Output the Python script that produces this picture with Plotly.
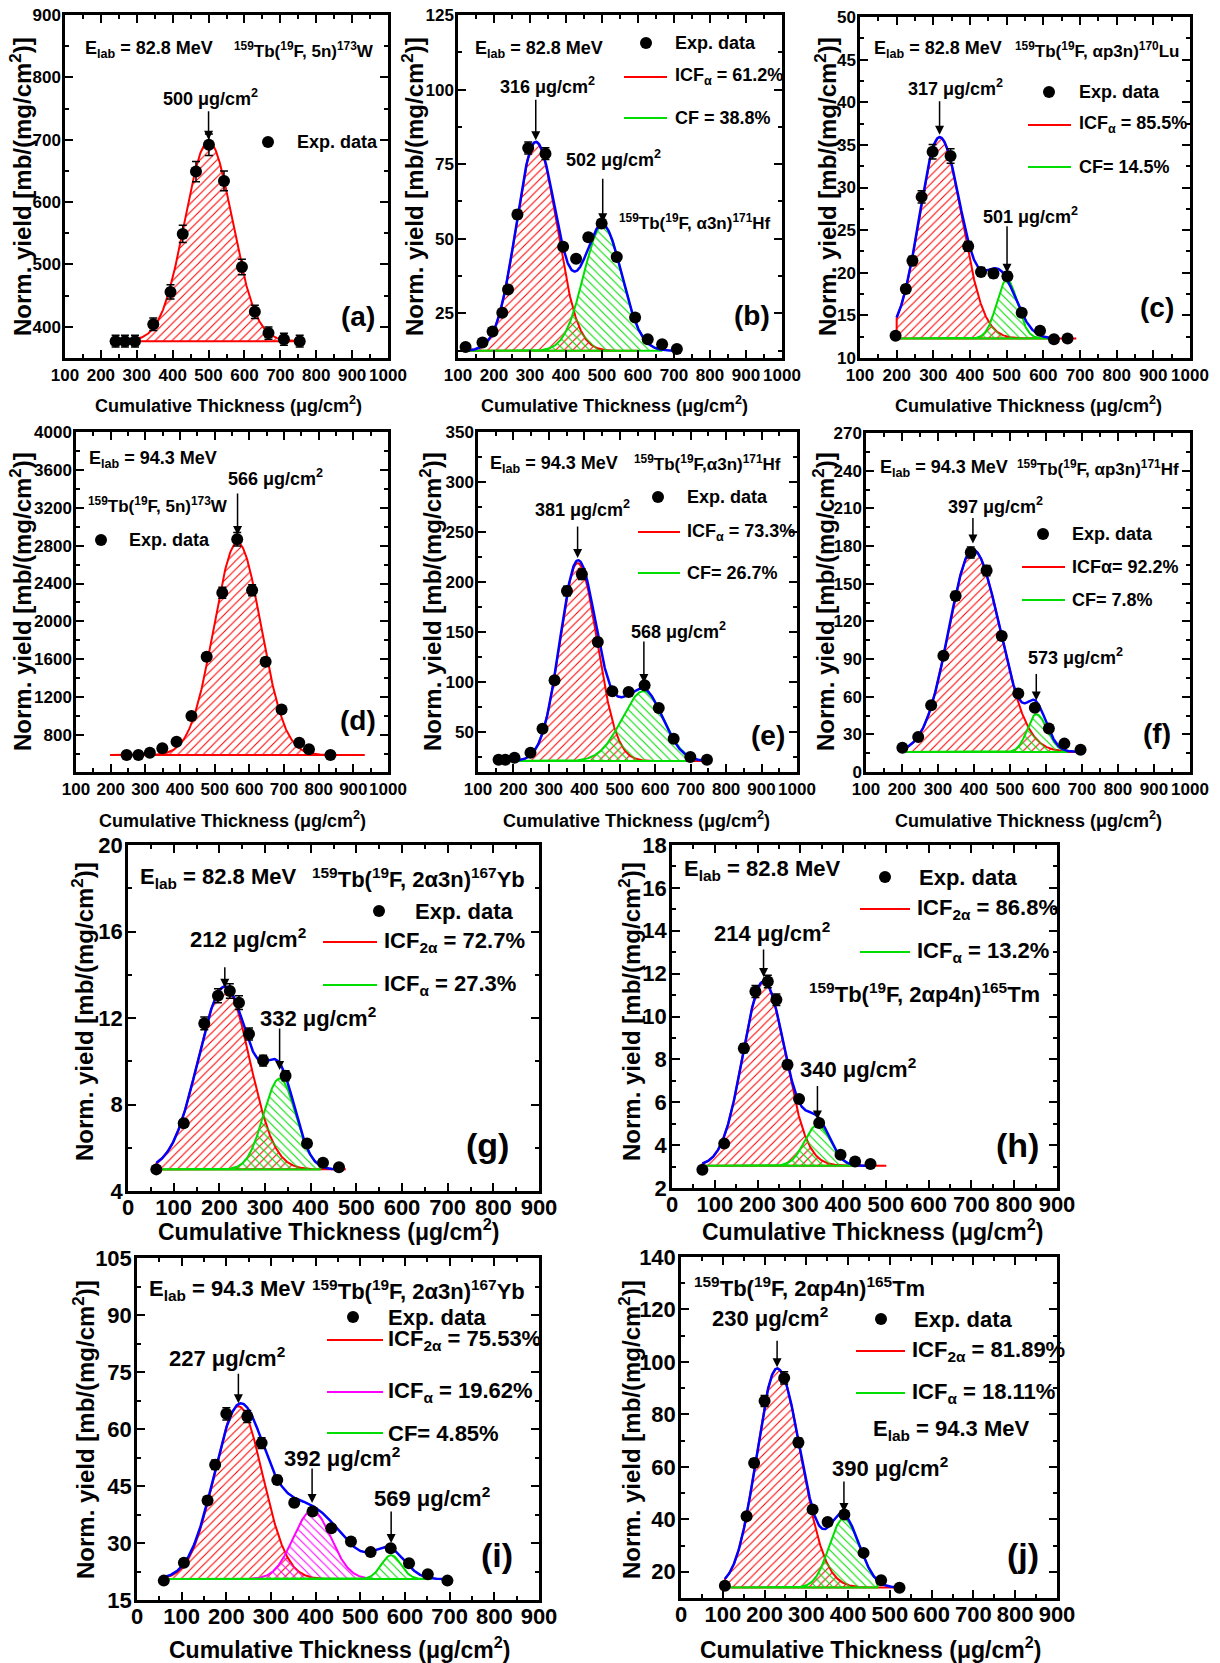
import numpy as np
import plotly.graph_objects as go

W, H = 1220, 1663

# ---------------- experimental points: cumulative thickness (ug/cm2) and normalized yield ----------------
a_thick = [241, 267, 295, 346, 394, 428, 465, 501, 543, 593, 629, 667, 710, 754]
a_yield = [377, 377, 377, 404, 456, 549, 649, 692, 634, 496, 424, 390, 380, 377]
b_thick = [121, 168, 196, 223, 239, 265, 295, 343, 392, 428, 462, 499, 541, 592, 627, 667, 708]
b_yield = [13.7, 15.2, 18.9, 25.2, 33.0, 58.1, 80.4, 78.5, 47.3, 43.3, 50.5, 55.1, 43.9, 23.6, 16.3, 14.6, 13.0]
c_thick = [197, 225, 243, 268, 298, 347, 395, 430, 464, 502, 541, 591, 629, 666]
c_yield = [12.6, 18.1, 21.4, 28.9, 34.2, 33.7, 23.1, 20.1, 19.9, 19.6, 15.3, 13.2, 12.2, 12.3]
d_thick = [246, 280, 313, 349, 390, 433, 477, 522, 565, 608, 647, 693, 744, 772, 834]
d_yield = [589, 589, 614, 660, 730, 1001, 1627, 2302, 2868, 2330, 1574, 1071, 720, 649, 589]
e_thick = [158, 177, 203, 248, 282, 316, 351, 393, 438, 479, 525, 570, 610, 652, 699, 746]
e_yield = [22.3, 22.3, 24.3, 29.3, 53.3, 101.7, 191, 207.7, 140, 90.7, 90, 96.7, 74, 43.3, 25, 22.3]
f_thick = [201, 245, 281, 315, 349, 391, 435, 477, 523, 569, 608, 651, 696]
f_yield = [19.4, 27.9, 53.2, 92.6, 140.2, 174.8, 160.4, 108.3, 62.5, 51.1, 34.6, 22.6, 17.8]
g_thick = [62, 122, 167, 197, 223, 243, 265, 296, 345, 392, 427, 462]
g_yield = [5.0, 7.13, 11.75, 13.03, 13.25, 12.71, 11.26, 10.03, 9.33, 6.2, 5.31, 5.1]
h_thick = [71, 122, 168, 195, 224, 244, 270, 297, 344, 394, 428, 464]
h_yield = [2.85, 4.07, 8.52, 11.17, 11.63, 10.78, 7.75, 6.15, 5.03, 3.55, 3.24, 3.12]
i_thick = [60, 105, 158, 175, 200, 247, 279, 314, 352, 393, 435, 479, 523, 568, 609, 651, 695]
i_yield = [20.1, 24.8, 41.2, 50.6, 64.0, 63.3, 56.3, 46.6, 40.6, 38.3, 33.9, 30.4, 27.6, 28.6, 24.7, 21.8, 20.1]
j_thick = [105, 157, 175, 200, 247, 281, 315, 351, 391, 437, 479, 523]
j_yield = [14.7, 41.2, 61.5, 85.1, 93.9, 69.3, 43.7, 39.0, 41.8, 27.2, 16.8, 13.9]

# ---------------- Gaussian fit parameters (centroid, amplitude, sigma left, sigma right) ----------------
a_base = 377; a_cen = [500]; a_amp = [320]; a_sl = [66]; a_sr = [66]
b_base = 12.4; b_cen = [316, 502]; b_amp = [70, 42]; b_sl = [54, 53]; b_sr = [58, 53]
c_base = 12.3; c_cen = [317, 501]; c_amp = [23.6, 6.9]; c_sl = [55, 28]; c_sr = [60, 28]
c_fcen = [317, 480]; c_famp = [23.6, 7.5]; c_fsl = [55, 45]; c_fsr = [60, 45]
d_base = 589; d_cen = [566]; d_amp = [2244]; d_sl = [68]; d_sr = [68]
e_base = 21; e_cen = [381, 568]; e_amp = [198, 70]; e_sl = [50, 62]; e_sr = [55, 55]
e_fcen = [381, 565]; e_famp = [198, 72]; e_fsl = [50, 72]; e_fsr = [53, 55]
f_base = 16; f_cen = [397, 573]; f_amp = [161, 30]; f_sl = [67, 25]; f_sr = [75, 30]
g_base = 5.0; g_cen = [212, 332]; g_amp = [8.45, 4.2]; g_sl = [58, 35]; g_sr = [54, 35]
h_base = 3.04; h_cen = [214, 340]; h_amp = [8.6, 1.9]; h_sl = [48, 30]; h_sr = [51, 30]
i_base = 20.5; i_cen = [227, 392, 569]; i_amp = [45.5, 18, 6.3]; i_sl = [54, 42, 22]; i_sr = [54, 42, 22]
i_fcen = [227, 380, 565]; i_famp = [43, 19, 7]; i_fsl = [56, 80, 35]; i_fsr = [56, 80, 35]
j_base = 14; j_cen = [230, 389]; j_amp = [83.5, 26.3]; j_sl = [49, 34]; j_sr = [57, 38]

RED, GREEN, MAG, BLUE = '#ff0000', '#00dd00', '#ff00ff', '#0000ff'

def ug(v):
    return f"{v} \u03bcg/cm<sup>2</sup>"

def reac(a, b):
    return f"<sup>159</sup>Tb(<sup>19</sup>F,{a}){b}"

panels = [
    dict(box=(65, 15, 388, 358), xr=[100, 1000], yr=[350, 900], ydt=100, ymdt=50, row=0,
         x=a_thick, y=a_yield, base=a_base,
         comps=[(a_cen[0], a_amp[0], a_sl[0], a_sr[0], 295, 754, RED, '/')], fit=None,
         texts=[("E<sub>lab</sub> = 82.8 MeV", 83, 50, 'left'),
                (reac(' 5n', '<sup>173</sup>W'), 376, 50, 'right'),
                (ug(500), 211, 98, 'center')],
         arrows=[(500, 700, 30)], marker=(268, 142), exp=(295, 142), legx=295, lines=[],
         label=('(a)', 358, 317), ytitle=(21, 187), xtitle=(228, 404)),
    dict(box=(458, 15, 782, 358), xr=[100, 1000], yr=[10, 125], ydt=25, ymdt=12.5, row=0,
         x=b_thick, y=b_yield, base=b_base,
         comps=[(b_cen[0], b_amp[0], b_sl[0], b_sr[0], 123, 600, RED, '/'),
                (b_cen[1], b_amp[1], b_sl[1], b_sr[1], 123, 665, GREEN, '\\')],
         fit=(b_cen, b_amp, b_sl, b_sr, 121, 708),
         texts=[("E<sub>lab</sub> = 82.8 MeV", 473, 50, 'left'),
                (ug(316), 547, 85, 'center'), (ug(502), 613, 158, 'center'),
                (reac(' \u03b13n', '<sup>171</sup>Hf'), 773, 222, 'right')],
         arrows=[(316, 83, 42), (502, 55.5, 45)], marker=(646, 43), exp=(673, 43), legx=673,
         lines=[(624, 667, 77, RED, "ICF<sub>\u03b1</sub> = 61.2%"), (624, 667, 118, GREEN, "CF = 38.8%")],
         label=('(b)', 752, 315), ytitle=(413, 187), xtitle=(614, 404)),
    dict(box=(860, 17, 1190, 358), xr=[100, 1000], yr=[10, 50], ydt=5, ymdt=2.5, row=0,
         x=c_thick, y=c_yield, base=c_base,
         comps=[(c_cen[0], c_amp[0], c_sl[0], c_sr[0], 200, 690, RED, '/'),
                (c_cen[1], c_amp[1], c_sl[1], c_sr[1], 200, 620, GREEN, '\\')],
         fit=(c_fcen, c_famp, c_fsl, c_fsr, 200, 627),
         texts=[("E<sub>lab</sub> = 82.8 MeV", 872, 50, 'left'),
                (reac(' \u03b1p3n', '<sup>170</sup>Lu'), 1181, 50, 'right'),
                (ug(317), 955, 87, 'center'), (ug(501), 1030, 215, 'center')],
         arrows=[(317, 36.2, 35), (501, 20, 48)], marker=(1049, 92), exp=(1077, 92), legx=1077,
         lines=[(1028, 1071, 125, RED, "ICF<sub>\u03b1</sub> = 85.5%"), (1028, 1071, 167, GREEN, "CF= 14.5%")],
         label=('(c)', 1157, 308), ytitle=(826, 187), xtitle=(1028, 404)),
    dict(box=(76, 432, 388, 772), xr=[100, 1000], yr=[410, 4000], ydt=400, ymdt=200, row=1,
         x=d_thick, y=d_yield, base=d_base,
         comps=[(d_cen[0], d_amp[0], d_sl[0], d_sr[0], 198, 933, RED, '/')], fit=None,
         texts=[("E<sub>lab</sub> = 94.3 MeV", 87, 460, 'left'), (ug(566), 275, 478, 'center'),
                (reac(' 5n', '<sup>173</sup>W'), 86, 505, 'left')],
         arrows=[(566, 2912, 43)], marker=(101, 540), exp=(127, 540), legx=127, lines=[],
         label=('(d)', 358, 720), ytitle=(21, 602), xtitle=(232, 819)),
    dict(box=(478, 432, 797, 772), xr=[100, 1000], yr=[10, 350], ydt=50, ymdt=25, row=1,
         x=e_thick, y=e_yield, base=e_base,
         comps=[(e_cen[0], e_amp[0], e_sl[0], e_sr[0], 158, 746, RED, '/'),
                (e_cen[1], e_amp[1], e_sl[1], e_sr[1], 158, 700, GREEN, '\\')],
         fit=(e_fcen, e_famp, e_fsl, e_fsr, 158, 746),
         texts=[("E<sub>lab</sub> = 94.3 MeV", 488, 465, 'left'),
                (reac('\u03b13n', '<sup>171</sup>Hf'), 783, 463, 'right'),
                (ug(381), 582, 508, 'center'), (ug(568), 678, 630, 'center')],
         arrows=[(381, 224, 33), (568, 99, 43)], marker=(658, 497), exp=(685, 497), legx=685,
         lines=[(638, 680, 532, RED, "ICF<sub>\u03b1</sub> = 73.3%"), (638, 680, 573, GREEN, "CF= 26.7%")],
         label=('(e)', 768, 735), ytitle=(431, 602), xtitle=(637, 819)),
    dict(box=(866, 433, 1190, 772), xr=[100, 1000], yr=[0, 270], ydt=30, ymdt=15, row=1,
         x=f_thick, y=f_yield, base=f_base,
         comps=[(f_cen[0], f_amp[0], f_sl[0], f_sr[0], 201, 680, RED, '/'),
                (f_cen[1], f_amp[1], f_sl[1], f_sr[1], 201, 660, GREEN, '\\')],
         fit=(f_cen, f_amp, f_sl, f_sr, 201, 696),
         texts=[("E<sub>lab</sub> = 94.3 MeV", 878, 468, 'left'),
                (reac(' \u03b1p3n', '<sup>171</sup>Hf'), 1181, 468, 'right'),
                (ug(397), 995, 505, 'center'), (ug(573), 1075, 657, 'center')],
         arrows=[(397, 182, 27), (573, 57, 28)], marker=(1043, 534), exp=(1070, 534), legx=1070,
         lines=[(1022, 1065, 567, RED, "ICF\u03b1= 92.2%"), (1022, 1065, 600, GREEN, "CF= 7.8%")],
         label=('(f)', 1157, 733), ytitle=(824, 602), xtitle=(1028, 819)),
    dict(box=(128, 845, 539, 1191), xr=[0, 900], yr=[4, 20], ydt=4, ymdt=2, row=2,
         x=g_thick, y=g_yield, base=g_base,
         comps=[(g_cen[0], g_amp[0], g_sl[0], g_sr[0], 62, 477, RED, '/'),
                (g_cen[1], g_amp[1], g_sl[1], g_sr[1], 62, 420, GREEN, '\\')],
         fit=(g_cen, g_amp, g_sl, g_sr, 62, 462),
         texts=[("E<sub>lab</sub> = 82.8 MeV", 138, 878, 'left'),
                (reac(' 2\u03b13n', '<sup>167</sup>Yb'), 527, 878, 'right'),
                (ug(212), 248, 938, 'center'), (ug(332), 318, 1017, 'center')],
         arrows=[(212, 13.4, 22), (332, 9.6, 43)], marker=(379, 911), exp=(413, 911), legx=382,
         lines=[(323, 377, 942, RED, "ICF<sub>2\u03b1</sub> = 72.7%"), (323, 377, 985, GREEN, "ICF<sub>\u03b1</sub> = 27.3%")],
         label=('(g)', 487, 1145), ytitle=(83, 1012), xtitle=(328, 1230)),
    dict(box=(672, 845, 1057, 1188), xr=[0, 900], yr=[2, 18], ydt=2, ymdt=1, row=2,
         x=h_thick, y=h_yield, base=h_base,
         comps=[(h_cen[0], h_amp[0], h_sl[0], h_sr[0], 71, 501, RED, '/'),
                (h_cen[1], h_amp[1], h_sl[1], h_sr[1], 71, 430, GREEN, '\\')],
         fit=(h_cen, h_amp, h_sl, h_sr, 71, 464),
         texts=[("E<sub>lab</sub> = 82.8 MeV", 682, 870, 'left'),
                (reac(' 2\u03b1p4n', '<sup>165</sup>Tm'), 1042, 993, 'right'),
                (ug(214), 772, 932, 'center'), (ug(340), 858, 1068, 'center')],
         arrows=[(214, 11.84, 29), (340, 5.2, 35)], marker=(885, 877), exp=(917, 877), legx=915,
         lines=[(860, 910, 909, RED, "ICF<sub>2\u03b1</sub> = 86.8%"), (860, 910, 952, GREEN, "ICF<sub>\u03b1</sub> = 13.2%")],
         label=('(h)', 1017, 1145), ytitle=(630, 1012), xtitle=(872, 1230)),
    dict(box=(137, 1258, 539, 1600), xr=[0, 900], yr=[15, 105], ydt=15, ymdt=7.5, row=3,
         x=i_thick, y=i_yield, base=i_base,
         comps=[(i_cen[0], i_amp[0], i_sl[0], i_sr[0], 60, 450, RED, '/'),
                (i_cen[1], i_amp[1], i_sl[1], i_sr[1], 250, 530, MAG, '\\'),
                (i_cen[2], i_amp[2], i_sl[2], i_sr[2], 60, 660, GREEN, '\\')],
         fit=(i_fcen, i_famp, i_fsl, i_fsr, 60, 695),
         texts=[("E<sub>lab</sub> = 94.3 MeV", 147, 1290, 'left'),
                (reac(' 2\u03b13n', '<sup>167</sup>Yb'), 527, 1290, 'right'),
                (ug(227), 227, 1357, 'center'), (ug(392), 342, 1457, 'center'), (ug(569), 432, 1497, 'center')],
         arrows=[(227, 66.8, 31), (392, 40.5, 36), (569, 30, 33)], marker=(353, 1317), exp=(386, 1317), legx=386,
         lines=[(327, 383, 1340, RED, "ICF<sub>2\u03b1</sub> = 75.53%"), (327, 383, 1392, MAG, "ICF<sub>\u03b1</sub> = 19.62%"),
                (327, 383, 1433, GREEN, "CF= 4.85%")],
         label=('(i)', 497, 1555), ytitle=(84, 1430), xtitle=(339, 1648)),
    dict(box=(681, 1257, 1057, 1598), xr=[0, 900], yr=[10, 140], ydt=20, ymdt=10, row=3,
         x=j_thick, y=j_yield, base=j_base,
         comps=[(j_cen[0], j_amp[0], j_sl[0], j_sr[0], 105, 520, RED, '/'),
                (j_cen[1], j_amp[1], j_sl[1], j_sr[1], 105, 470, GREEN, '\\')],
         fit=(j_cen, j_amp, j_sl, j_sr, 105, 523),
         texts=[(reac(' 2\u03b1p4n', '<sup>165</sup>Tm'), 692, 1287, 'left'),
                (ug(230), 770, 1317, 'center'), ("E<sub>lab</sub> = 94.3 MeV", 871, 1430, 'left'),
                (ug(390), 890, 1467, 'center')],
         arrows=[(230, 98, 28), (390, 42.8, 32)], marker=(881, 1319), exp=(912, 1319), legx=910,
         lines=[(856, 905, 1351, RED, "ICF<sub>2\u03b1</sub> = 81.89%"), (856, 905, 1393, GREEN, "ICF<sub>\u03b1</sub> = 18.11%")],
         label=('(j)', 1023, 1555), ytitle=(630, 1430), xtitle=(870, 1648)),
]

REG = "Liberation Sans, Arial, sans-serif"


def gauss(x, c, a, sl, sr):
    s = np.where(x < c, sl, sr)
    return a * np.exp(-0.5 * ((x - c) / s) ** 2)


def font(size, fam=REG):
    return dict(family=fam, size=size, color='black', weight='bold')


fig = go.Figure()
ann, shapes, lay = [], [], {}

for k, p in enumerate(panels, start=1):
    s = '' if k == 1 else str(k)
    xr_, yr_ = 'x' + s, 'y' + s
    x0, y0, x1, y1 = p['box']
    top = p['row'] < 2
    lsize = 18 if top else 22
    tsize = 17 if top else 22
    base = p['base']

    for (c, a, sl, sr, r0, r1, col, shp) in p['comps']:
        xs = np.linspace(r0, r1, 400)
        ys = base + gauss(xs, c, a, sl, sr)
        px = np.concatenate([xs, xs[::-1], [xs[0]]])
        py = np.concatenate([ys, np.full(len(xs), base), [ys[0]]])
        fig.add_trace(go.Scatter(x=px, y=py, xaxis=xr_, yaxis=yr_, mode='lines',
                                 line=dict(color=col, width=2), fill='toself',
                                 fillcolor='rgba(0,0,0,0)',
                                 fillpattern=dict(shape=shp, fgcolor=col, bgcolor='rgba(0,0,0,0)',
                                                  size=6, solidity=0.18, fillmode='replace'),
                                 showlegend=False, hoverinfo='skip'))
    if p['fit'] is not None:
        cs, amps, sls, srs, r0, r1 = p['fit']
        xs = np.linspace(r0, r1, 500)
        ys = np.full(len(xs), float(base))
        for c, a, sl, sr in zip(cs, amps, sls, srs):
            ys = ys + gauss(xs, c, a, sl, sr)
        fig.add_trace(go.Scatter(x=xs, y=ys, xaxis=xr_, yaxis=yr_, mode='lines',
                                 line=dict(color=BLUE, width=2.5), showlegend=False, hoverinfo='skip'))
    fig.add_trace(go.Scatter(x=p['x'], y=p['y'], xaxis=xr_, yaxis=yr_, mode='markers',
                             marker=dict(color='black', size=12),
                             error_y=dict(type='percent', value=2.5, color='black', thickness=1.5, width=4),
                             showlegend=False, hoverinfo='skip'))

    common = dict(showline=True, linewidth=2.5, linecolor='black', mirror='allticks', ticks='inside',
                  ticklen=8, tickwidth=2, tickcolor='black', showgrid=False, zeroline=False,
                  tickfont=font(tsize), tickangle=0, automargin=False)
    lay['xaxis' + s] = dict(domain=[x0 / W, x1 / W], range=p['xr'], anchor=yr_, dtick=100, tick0=0,
                            minor=dict(ticks='inside', ticklen=4, tickwidth=1.5, tickcolor='black', dtick=50),
                            ticklabelstandoff=(0 if top else -5), **common)
    lay['yaxis' + s] = dict(domain=[1 - y1 / H, 1 - y0 / H], range=p['yr'], anchor=xr_, dtick=p['ydt'], tick0=0,
                            minor=dict(ticks='inside', ticklen=4, tickwidth=1.5, tickcolor='black', dtick=p['ymdt']),
                            ticklabelstandoff=-2, **common)

    def T(text, px, py, anchor, size=lsize, angle=0):
        ann.append(dict(text=text, x=px / W, y=1 - py / H, xref='paper', yref='paper',
                        xanchor=anchor, yanchor='middle', showarrow=False, font=font(size),
                        textangle=angle))

    for (t, px, py, anc) in p['texts']:
        T(t, px, py, anc, size=(17 if (top and t.startswith('<sup>159')) else lsize))
    for (c, yv, ln) in p['arrows']:
        ann.append(dict(x=c, y=yv, xref=xr_, yref=yr_, text='', showarrow=True, ax=0, ay=-ln,
                        arrowhead=2, arrowsize=1.2, arrowwidth=1.5, arrowcolor='black'))
    mx, my = p['marker']
    shapes.append(dict(type='circle', xref='paper', yref='paper', x0=(mx - 6) / W, x1=(mx + 6) / W,
                       y0=1 - (my + 6) / H, y1=1 - (my - 6) / H, fillcolor='black', line=dict(width=0)))
    T("Exp. data", p['exp'][0], p['exp'][1], 'left')
    for (lx0, lx1, ly, col, t) in p['lines']:
        shapes.append(dict(type='line', xref='paper', yref='paper', x0=lx0 / W, x1=lx1 / W,
                           y0=1 - ly / H, y1=1 - ly / H, line=dict(color=col, width=2)))
        T(t, p['legx'], ly, 'left')
    lt, lxp, lyp = p['label']
    T(lt, lxp, lyp, 'center', size=28 if top else 34)
    T("Norm. yield [mb/(mg/cm<sup>2</sup>)]", p['ytitle'][0], p['ytitle'][1], 'center', size=24, angle=-90)
    T("Cumulative Thickness (\u03bcg/cm<sup>2</sup>)", p['xtitle'][0], p['xtitle'][1], 'center',
      size=18 if top else 23)

fig.update_layout(width=W, height=H, margin=dict(l=0, r=0, t=0, b=0, autoexpand=False),
                  paper_bgcolor='white', plot_bgcolor='white', showlegend=False,
                  annotations=ann, shapes=shapes, **lay)
fig.write_html("out.html")
